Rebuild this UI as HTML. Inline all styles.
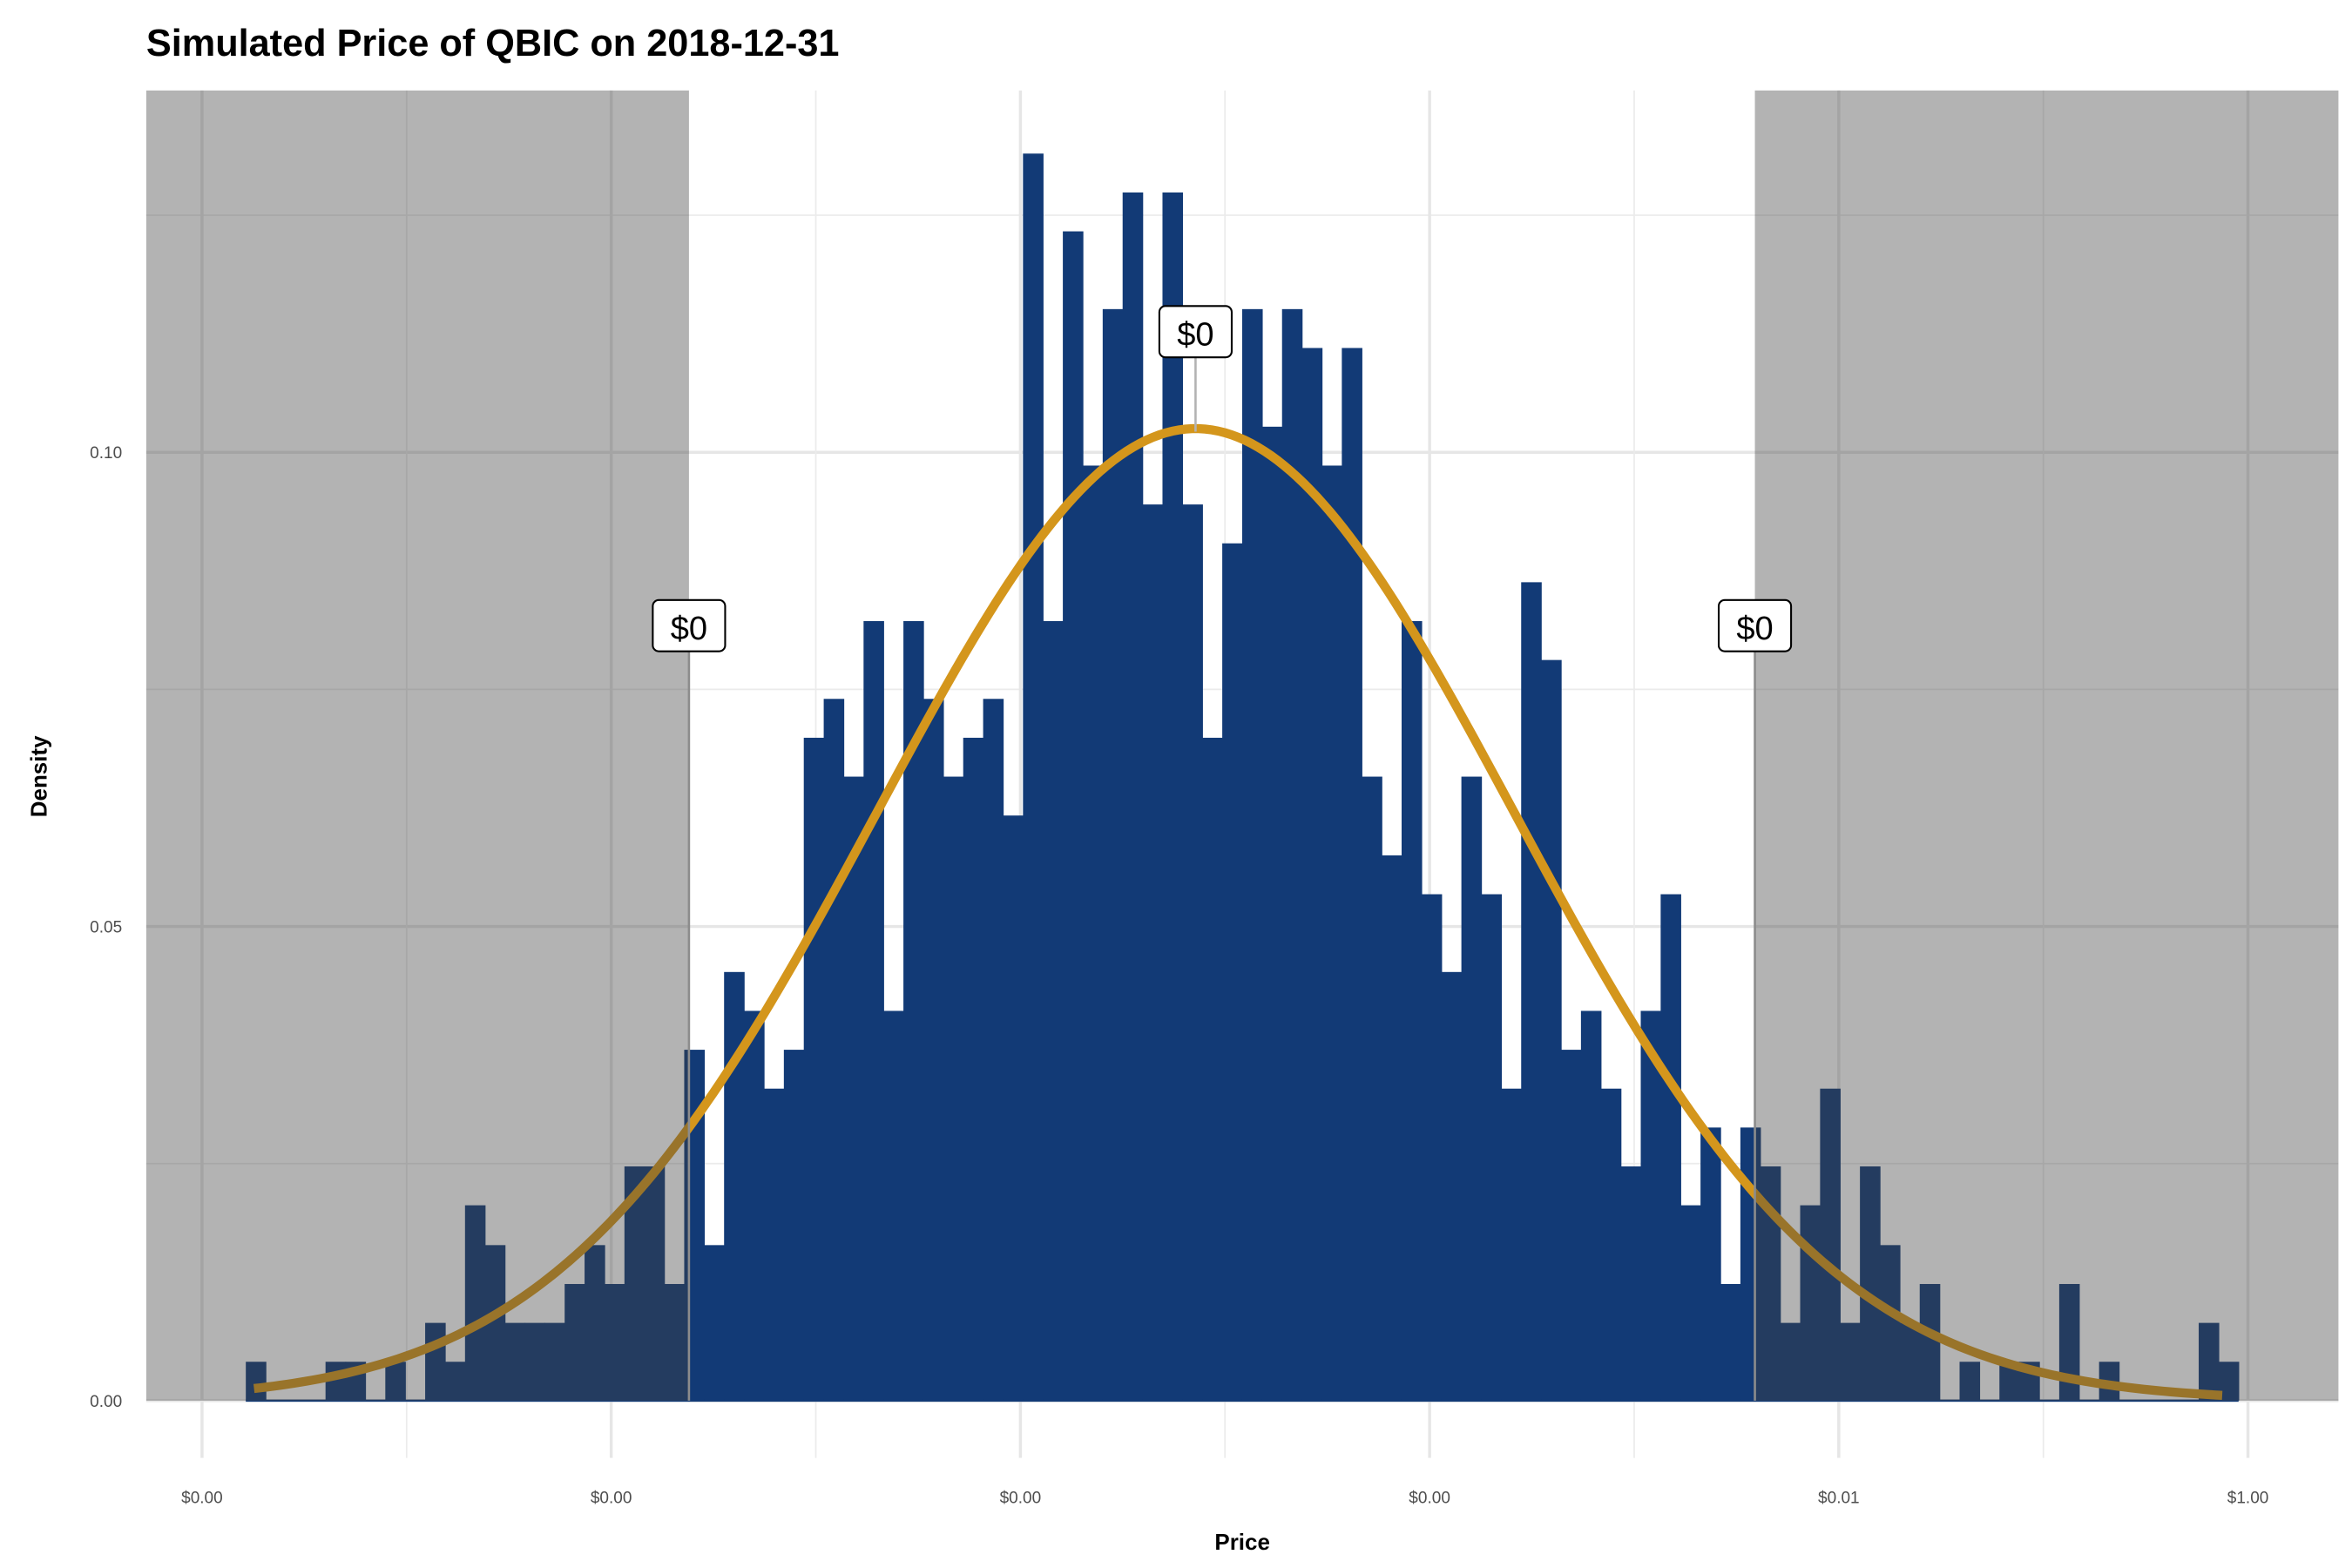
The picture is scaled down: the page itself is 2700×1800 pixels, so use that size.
<!DOCTYPE html>
<html><head><meta charset="utf-8"><style>
html,body{margin:0;padding:0;background:#fff}
svg{display:block}
text{font-family:"Liberation Sans",Arial,sans-serif}
</style></head><body>
<svg id="chart" width="2700" height="1800" viewBox="0 0 1560 1040" preserveAspectRatio="none" xmlns="http://www.w3.org/2000/svg">
<text x="97" y="37" font-size="25" font-weight="bold" fill="#000">Simulated Price of QBIC on 2018-12-31</text>
<g id="grid"></g>
<g id="bars"></g>
<path id="curve" fill="none" stroke="#d4961c" stroke-width="6" stroke-linecap="butt"/>
<g id="shade"></g>
<g id="labels"></g>
<g id="axes"></g>
<text x="824" y="1028" font-size="15" font-weight="bold" text-anchor="middle">Price</text>
<text transform="translate(31,515) rotate(-90)" font-size="15" font-weight="bold" text-anchor="middle">Density</text>
</svg>
<script>
// ---- data ----
const binStart = 0.107;          // axis units (log-price scale)
const binWidth = 0.0487;
const binDensity = [
0.0041,0,0,0,0.0041,0.0041,0,0.0041,0,0.0082,
0.0041,0.0206,0.0164,0.0082,0.0082,0.0082,0.0123,0.0164,0.0123,0.0247,
0.0247,0.0123,0.0370,0.0164,0.0452,0.0411,0.0329,0.0370,0.0699,0.0740,
0.0658,0.0822,0.0411,0.0822,0.0740,0.0658,0.0699,0.0740,0.0617,0.1315,
0.0822,0.1233,0.0986,0.1151,0.1274,0.0945,0.1274,0.0945,0.0699,0.0904,
0.1151,0.1027,0.1151,0.1110,0.0986,0.1110,0.0658,0.0575,0.0822,0.0534,
0.0452,0.0658,0.0534,0.0329,0.0863,0.0781,0.0370,0.0411,0.0329,0.0247,
0.0411,0.0534,0.0206,0.0288,0.0123,0.0288,0.0247,0.0082,0.0206,0.0329,
0.0082,0.0247,0.0164,0.0082,0.0123,0,0.0041,0,0.0041,0.0041,
0,0.0123,0,0.0041,0,0,0,0,0.0082,0.0041];
const fitMean = 2.428;
const fitSd = 0.777;
const fitPeak = 0.1025;
const shadeLow = 1.190;
const shadeHigh = 3.795;
const labelPositions = [1.190, 2.428, 3.795];
const labelTexts = ["$0", "$0", "$0"];
const xTickValues = [0, 1, 2, 3, 4, 5];
const xTickLabels = ["$0.00", "$0.00", "$0.00", "$0.00", "$0.01", "$1.00"];
const yTickValues = [0, 0.05, 0.10];
const yTickLabels = ["0.00", "0.05", "0.10"];

// ---- scales ----
const X0 = 134, XU = 271.4, Y0 = 929, YU = 6290;
const PL = 97, PR = 1551, PT = 60, PB = 967;
const xs = u => X0 + XU * u;
const ys = d => Y0 - YU * d;
const NS = "http://www.w3.org/2000/svg";
function mk(tag, attrs, parent){const e=document.createElementNS(NS,tag);for(const k in attrs)e.setAttribute(k,attrs[k]);parent.appendChild(e);return e;}

// grid
const grid = document.getElementById('grid');
[0.025,0.075,0.125].forEach(v=>{const l=mk('line',{x1:PL,x2:PR,y1:ys(v),y2:ys(v),stroke:'#ebebeb','stroke-width':1},grid);

});
yTickValues.forEach(v=>{const l=mk('line',{x1:PL,x2:PR,y1:ys(v),y2:ys(v),stroke:'#e6e6e6','stroke-width':2},grid);

});
xTickValues.forEach((v,i)=>{
  const l=mk('line',{x1:xs(v),x2:xs(v),y1:PT,y2:PB,stroke:'#e6e6e6','stroke-width':2},grid);
  
  
  if(i<xTickValues.length-1){const m=mk('line',{x1:xs(v+0.5),x2:xs(v+0.5),y1:PT,y2:PB,stroke:'#ebebeb','stroke-width':1},grid);
  
  }
});

// bars
const bars = document.getElementById('bars');
binDensity.forEach((d,i)=>{
  if(d<=0) return;
  const x1=xs(binStart+binWidth*i), x2=xs(binStart+binWidth*(i+1));
  const r=mk('rect',{x:x1,y:ys(d),width:x2-x1+0.4,height:Y0-ys(d),fill:'#123a76'},bars);
  
  
});
const base=mk('line',{x1:xs(binStart),x2:xs(binStart+binWidth*binDensity.length),y1:Y0,y2:Y0,stroke:'#123a76','stroke-width':1.5},bars);



// curve
let dpath='';
const u0=binStart+0.02, u1=binStart+binWidth*binDensity.length-0.04;
for(let k=0;k<=300;k++){const u=u0+(u1-u0)*k/300;const d=fitPeak*Math.exp(-((u-fitMean)**2)/(2*fitSd*fitSd));dpath+=(k?'L':'M')+xs(u).toFixed(2)+','+ys(d).toFixed(2);}
document.getElementById('curve').setAttribute('d',dpath);

// shading
const shade=document.getElementById('shade');
const s1=mk('rect',{x:PL,y:PT,width:xs(shadeLow)-PL,height:Y0-PT,fill:'#414141','fill-opacity':0.4},shade);


const s2=mk('rect',{x:xs(shadeHigh),y:PT,width:PR-xs(shadeHigh),height:Y0-PT,fill:'#414141','fill-opacity':0.4},shade);



// labels
const labels=document.getElementById('labels');
labelPositions.forEach((u,i)=>{
  const cx=xs(u);
  const mid = i===1;
  const top = mid ? 203 : 398;
  const lineEnd = mid ? ys(fitPeak)+2 : Y0;
  const ln=mk('line',{x1:cx,x2:cx,y1:top+34,y2:lineEnd,stroke:mid?'#b3b3b3':'#8c8c8c','stroke-width':1.5},labels);
  
  
  const bx=mk('rect',{x:cx-24,y:top,width:48,height:34,rx:4,fill:'#fff',stroke:'#000','stroke-width':1.2},labels);
  
  
  const t=mk('text',{x:cx,y:top+26,'font-size':22,'text-anchor':'middle',fill:'#000'},labels);
  t.textContent=labelTexts[i];
  
  
});

// axes labels
const axes=document.getElementById('axes');
yTickValues.forEach((v,i)=>{const t=mk('text',{x:81,y:ys(v)+4,'font-size':11,'text-anchor':'end',fill:'#4d4d4d'},axes);
t.textContent=yTickLabels[i];

});
xTickValues.forEach((v,i)=>{const t=mk('text',{x:xs(v),y:997,'font-size':11,'text-anchor':'middle',fill:'#4d4d4d'},axes);
t.textContent=xTickLabels[i];

});
</script>
</body></html>
